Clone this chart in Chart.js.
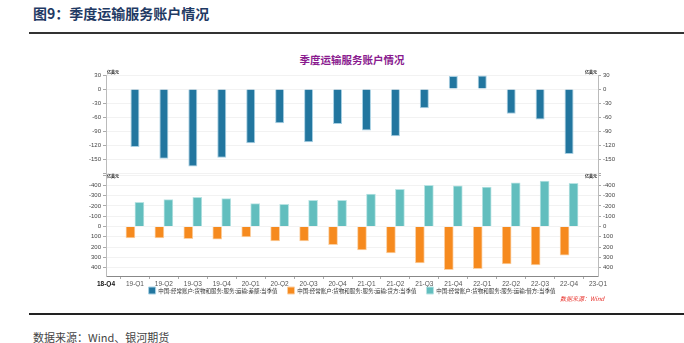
<!DOCTYPE html>
<html>
<head>
<meta charset="utf-8">
<script src="https://cdn.jsdelivr.net/npm/chart.js@4.4.0/dist/chart.umd.min.js"></script>
<style>
    body { margin: 0; width: 684px; height: 343px; background: #fff; position: relative; overflow: hidden; font-family: "Noto Sans CJK SC", sans-serif; }
    .page-title { position: absolute; left: 33px; top: 3px; font-size: 14px; font-weight: bold; color: #1f3a64; white-space: nowrap; }
    .rule-top { position: absolute; left: 29px; right: 0; top: 32px; height: 2px; background: #333; }
    .chart-title { position: absolute; left: 252px; width: 200px; top: 52px; text-align: center; font-size: 10.5px; font-weight: bold; color: #8a1b8f; }
    .chart-box { position: absolute; left: 0; top: 40px; width: 684px; height: 275px; }
    .chart-source { position: absolute; left: 560px; top: 294px; font-size: 6px; font-style: italic; color: #e8322c; white-space: nowrap; }
    .rule-bottom { position: absolute; left: 29px; right: 0; top: 313px; height: 2px; background: #222; }
    .page-source { position: absolute; left: 33px; top: 329px; font-size: 11px; color: #444; white-space: nowrap; }
</style>
</head>
<body>
<div class="page-title">图9：季度运输服务账户情况</div>
<div class="rule-top"></div>
<div class="chart-title">季度运输服务账户情况</div>
<div class="chart-box"><canvas id="transportChart"></canvas></div>
<div class="chart-source">数据来源：Wind</div>
<div class="rule-bottom"></div>
<div class="page-source">数据来源：Wind、银河期货</div>

<script>
const UNIT = '亿美元';
const QUARTERS = ['18-Q4', '19-Q1', '19-Q2', '19-Q3', '19-Q4', '20-Q1', '20-Q2', '20-Q3', '20-Q4',
    '21-Q1', '21-Q2', '21-Q3', '21-Q4', '22-Q1', '22-Q2', '22-Q3', '22-Q4', '23-Q1'];

// 差额 (top panel), 贷方 / 借方 (bottom panel, reversed axis)
const NET = [null, -124, -149, -166, -147, -116, -73, -114, -75, -89, -101, -41, 28, 29, -53, -65, -139, null];
const CREDIT = [null, 110, 110, 119, 123, 100, 139, 139, 177, 226, 255, 352, 418, 408, 364, 372, 278, null];
const DEBIT = [null, -235, -261, -284, -271, -223, -216, -255, -255, -316, -361, -400, -394, -384, -424, -442, -419, null];

const LABEL_NET = '中国:经常账户:货物和服务:服务:运输:差额:当季值';
const LABEL_CREDIT = '中国:经常账户:货物和服务:服务:运输:贷方:当季值';
const LABEL_DEBIT = '中国:经常账户:货物和服务:服务:运输:借方:当季值';

Chart.defaults.font.family = '"Liberation Sans", "Noto Sans CJK SC", sans-serif';
Chart.defaults.color = '#444';

// 亿美元 above each y axis
const unitLabels = {
    id: 'unitLabels',
    afterDraw(chart) {
        const ctx = chart.ctx;
        const { left, right } = chart.chartArea;
        ctx.save();
        ctx.font = 'bold 4px "Noto Sans CJK SC"';
        ctx.fillStyle = '#222';
        ctx.textBaseline = 'middle';
        const rows = [chart.scales.yTop.top - 3, chart.scales.yBot.top + 1];
        rows.forEach(y => {
            ctx.textAlign = 'left';
            ctx.fillText(UNIT, left + 1, y);
            ctx.textAlign = 'right';
            ctx.fillText(UNIT, right - 1, y);
        });
        ctx.restore();
    }
};

// keep the legend tight under the axis labels
const legendTight = {
    id: 'legendTight',
    afterInit(chart) {
        const legend = chart.legend;
        const fit = legend.fit;
        legend.fit = function () {
            fit.call(this);
            this.height = 20;
        };
    },
    afterLayout(chart) {
        chart.legend.top -= 10;
        chart.legend.bottom -= 10;
    }
};

const fixWidth = scale => { scale.width = 30; };
const topTick = v => (v >= -150 && v % 30 === 0) ? v : '';
const botTick = v => (v >= -400 && v <= 400 && v % 100 === 0) ? v : '';
const tickFont = { size: 6 };

const topAxis = (position, weight, grid) => ({
    type: 'linear', position, stack: position, stackWeight: 100, weight,
    min: -184, max: 30,
    grid: { color: '#f2f2f2', tickColor: '#aaa', tickLength: 3, drawOnChartArea: grid },
    border: { color: '#bbb' },
    ticks: { stepSize: 30, autoSkip: false, includeBounds: false, font: tickFont, padding: 2, callback: topTick },
    afterFit: fixWidth
});

const botAxis = (position, weight, grid) => ({
    type: 'linear', position, stack: position, stackWeight: 101, weight,
    min: -500, max: 480, reverse: true,
    grid: { color: '#f2f2f2', tickColor: '#aaa', tickLength: 3, drawOnChartArea: grid },
    border: { color: '#bbb' },
    ticks: { stepSize: 100, autoSkip: false, includeBounds: false, font: tickFont, padding: 2, callback: botTick },
    afterFit: fixWidth
});

new Chart(document.getElementById('transportChart'), {
    type: 'bar',
    data: {
        labels: QUARTERS,
        datasets: [
            {
                label: LABEL_NET,
                data: NET,
                yAxisID: 'yTop',
                grouped: false,
                maxBarThickness: 9,
                backgroundColor: '#22769f',
                borderColor: '#a8d0e3',
                borderWidth: 1
            },
            {
                label: LABEL_CREDIT,
                data: CREDIT,
                yAxisID: 'yBot',
                barThickness: 9,
                backgroundColor: '#f68a1e',
                borderColor: '#fbd0a3',
                borderWidth: 1
            },
            {
                label: LABEL_DEBIT,
                data: DEBIT,
                yAxisID: 'yBot',
                barThickness: 9,
                backgroundColor: '#62bebe',
                borderColor: '#b8e3e3',
                borderWidth: 1
            }
        ]
    },
    options: {
        responsive: true,
        maintainAspectRatio: false,
        animation: false,
        layout: { padding: { left: 76, right: 56, top: 35, bottom: 8 } },
        scales: {
            x: {
                offset: false,
                grid: { display: true, drawOnChartArea: false, tickLength: 3, tickColor: '#aaa' },
                border: { color: '#888' },
                ticks: {
                    autoSkip: false,
                    maxRotation: 0,
                    padding: 1,
                    color: ctx => ctx.index === 0 ? '#111' : '#555',
                    font: ctx => ctx.index === 0 ? { size: 6.5, weight: 'bold' } : { size: 6.5 }
                },
                afterFit: scale => { scale.height = 11; }
            },
            yTop: topAxis('left', 2, true),
            yBot: botAxis('left', 1, true),
            yTopR: topAxis('right', 1, false),
            yBotR: botAxis('right', 2, false)
        },
        plugins: {
            legend: {
                position: 'bottom',
                labels: {
                    boxWidth: 7,
                    boxHeight: 7,
                    padding: 10,
                    color: '#333',
                    font: { size: 5.5, family: '"Noto Sans CJK SC", sans-serif' }
                }
            },
            tooltip: { enabled: false }
        }
    },
    plugins: [unitLabels, legendTight]
});
</script>
</body>
</html>
